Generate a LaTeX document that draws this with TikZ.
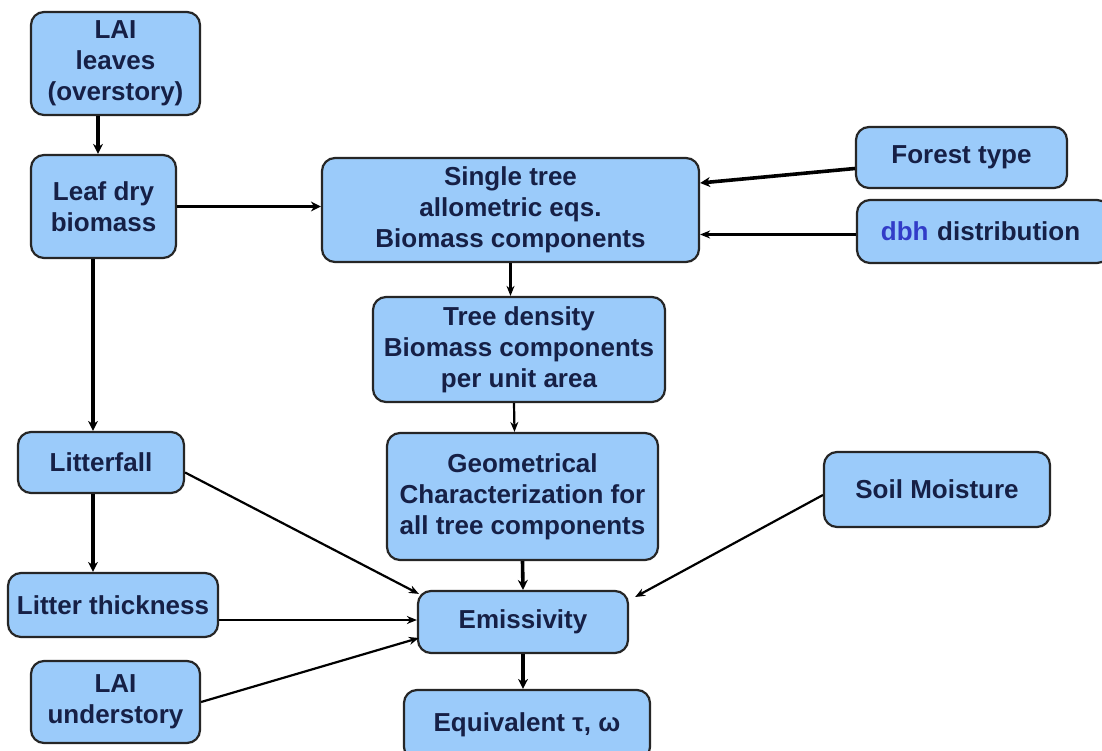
\documentclass[tikz,border=0pt]{standalone}
\usepackage{fontspec}
\setmainfont{Liberation Sans}
\usetikzlibrary{arrows.meta}
\definecolor{boxfill}{RGB}{155,203,250}
\definecolor{txt}{RGB}{22,32,70}
\definecolor{dbhblue}{RGB}{50,60,200}
\tikzset{
  box/.style={draw=black!85, line width=2.2pt, fill=boxfill, rounded corners=13pt,
    align=center, inner sep=0pt, text=txt,
    font=\bfseries\fontsize{26}{31}\selectfont},
  thickarr/.style={line width=3.6pt, -{Stealth[length=10pt,width=10pt]}},
  thinarr/.style={line width=2.2pt, -{Stealth[length=10pt,width=8pt]}},
}
\begin{document}
\begin{tikzpicture}[x=1pt,y=-1pt]
\useasboundingbox (0,0) rectangle (1102,751);
\clip (0,0) rectangle (1102,751);
\fill[white] (0,0) rectangle (1102,751);

\node[box, minimum width=169pt, minimum height=103pt] (lai) at (115.5,63.5) {LAI\\leaves\\(overstory)};
\node[box, minimum width=145pt, minimum height=103pt] (leaf) at (103.5,206.5) {Leaf dry\\biomass};
\node[box, minimum width=377pt, minimum height=104pt] (single) at (510.5,210) {Single tree\\allometric eqs.\\Biomass components};
\node[box, minimum width=211pt, minimum height=61pt] (forest) at (961.5,157.5) {Forest type};
\node[box, minimum width=253pt, minimum height=63pt, text width=240pt] (dbh) at (983.5,231.5) {\hspace*{-6pt}\textcolor{dbhblue}{dbh} distribution};
\node[box, minimum width=292pt, minimum height=105pt] (density) at (519,349.5) {Tree density\\Biomass components\\per unit area};
\node[box, minimum width=271pt, minimum height=127pt] (geom) at (522.5,496.5) {Geometrical\\Characterization for\\all tree components};
\node[box, minimum width=166pt, minimum height=61pt] (litterfall) at (101,462.5) {Litterfall};
\node[box, minimum width=210pt, minimum height=64pt] (thick) at (113,605) {Litter thickness};
\node[box, minimum width=169pt, minimum height=82pt] (under) at (115.5,702) {LAI\\understory};
\node[box, minimum width=210pt, minimum height=62pt] (emis) at (523,622) {Emissivity};
\node[box, minimum width=246pt, minimum height=70pt] (equiv) at (527,725) {Equivalent τ, ω};
\node[box, minimum width=226pt, minimum height=75pt] (soil) at (937,489.5) {Soil Moisture};

\draw[thickarr] ([xshift=-17.5pt]lai.south) -- ([xshift=-5.5pt]leaf.north);
\draw[thickarr] (leaf.east) -- (leaf.east -| single.west);
\draw[thickarr] ([yshift=-11pt]forest.west) -- ([yshift=27pt]single.east);
\draw[thinarr] ([yshift=-3pt]dbh.west) -- ([yshift=-3pt]dbh.west -| single.east);
\draw[thinarr] (single.south) -- (single.south |- density.north);
\draw[thinarr] ([xshift=-5pt]density.south) -- ([xshift=-8pt]geom.north);
\draw[thickarr] ([xshift=-10.5pt]leaf.south) -- ([xshift=-8pt]litterfall.north);
\draw[thickarr] ([xshift=-8pt]litterfall.south) -- ([xshift=-20pt]thick.north);
\draw[thinarr] ([yshift=-10pt]litterfall.east) -- ([xshift=2pt,yshift=-4pt]emis.north west);
\draw[thinarr] ([yshift=-15pt]thick.east) -- ([yshift=-15pt]thick.east -| emis.west);
\draw[thinarr] (under.east) -- ([xshift=2pt,yshift=-16pt]emis.west);
\draw[thickarr] (geom.south) -- (emis.north);
\draw[thinarr] ([yshift=-5.5pt]soil.west) -- ([xshift=6pt,yshift=25pt]emis.east);
\draw[thickarr] (emis.south) -- (equiv.north -| emis.south);
\end{tikzpicture}
\end{document}
